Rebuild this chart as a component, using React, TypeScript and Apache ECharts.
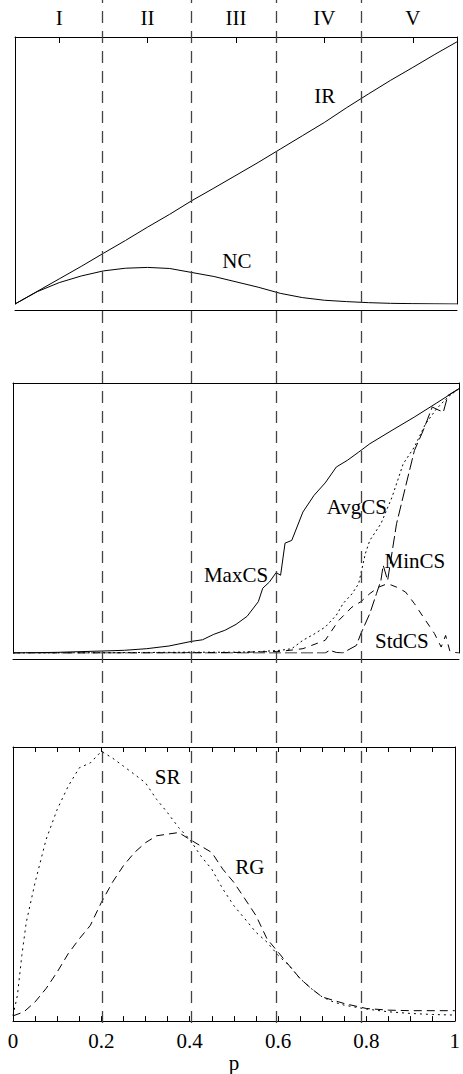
import React, { useEffect, useRef } from 'react';
import * as echarts from 'echarts';

const FONT = "'Liberation Serif', 'Times New Roman', serif";

// Stage names (top axis) and stage boundaries (dashed vertical lines), in p
const stageNames = ['I', 'II', 'III', 'IV', 'V'];
const stageBounds = [0.195, 0.4, 0.59, 0.778];

// ---- Panel 1: IR and NC ----
const p1P = [0, 0.05, 0.1, 0.15, 0.2, 0.25, 0.3, 0.35, 0.4, 0.45, 0.5, 0.55, 0.6, 0.65, 0.7, 0.75, 0.8, 0.85, 0.9, 0.95, 1];
const irV = [0, 0.047, 0.094, 0.141, 0.19, 0.238, 0.288, 0.336, 0.387, 0.434, 0.482, 0.53, 0.58, 0.63, 0.68, 0.735, 0.787, 0.838, 0.886, 0.935, 0.982];
const ncV = [0, 0.046, 0.08, 0.105, 0.124, 0.134, 0.137, 0.133, 0.118, 0.103, 0.083, 0.063, 0.04, 0.024, 0.014, 0.009, 0.005, 0.0025, 0.0013, 0.0006, 0];

// ---- Panel 2: MaxCS, AvgCS, MinCS, StdCS ----
const maxP = [0, 0.1, 0.2, 0.25, 0.3, 0.35, 0.4, 0.425, 0.45, 0.475, 0.5, 0.525, 0.55, 0.56, 0.575, 0.59, 0.6, 0.61, 0.625, 0.65, 0.675, 0.7, 0.725, 0.75, 0.775, 0.8, 0.85, 0.9, 0.95, 1];
const maxV = [0, 0.0025, 0.0074, 0.01, 0.016, 0.026, 0.043, 0.049, 0.069, 0.084, 0.106, 0.136, 0.19, 0.24, 0.263, 0.298, 0.288, 0.407, 0.417, 0.522, 0.584, 0.63, 0.689, 0.714, 0.744, 0.775, 0.825, 0.874, 0.926, 0.979];
const avgP = [0, 0.1, 0.2, 0.3, 0.4, 0.5, 0.55, 0.6, 0.625, 0.65, 0.675, 0.7, 0.725, 0.74, 0.76, 0.775, 0.79, 0.8, 0.825, 0.85, 0.875, 0.9, 0.925, 0.95, 0.975, 1];
const avgV = [0, 0, 0.001, 0.002, 0.003, 0.003, 0.005, 0.01, 0.016, 0.047, 0.07, 0.096, 0.14, 0.183, 0.219, 0.257, 0.368, 0.417, 0.479, 0.578, 0.701, 0.763, 0.849, 0.905, 0.948, 0.979];
const minP = [0, 0.2, 0.4, 0.6, 0.7, 0.71, 0.725, 0.74, 0.75, 0.77, 0.78, 0.8, 0.815, 0.825, 0.83, 0.84, 0.86, 0.88, 0.9, 0.92, 0.94, 0.955, 0.965, 0.975, 1];
const minV = [0, 0, 0, 0, 0, 0.01, 0.002, 0, 0.01, 0.028, 0.072, 0.146, 0.22, 0.269, 0.325, 0.269, 0.479, 0.615, 0.75, 0.825, 0.911, 0.899, 0.893, 0.954, 0.979];
const stdP = [0, 0.2, 0.4, 0.5, 0.55, 0.6, 0.65, 0.7, 0.73, 0.76, 0.78, 0.8, 0.82, 0.84, 0.86, 0.88, 0.9, 0.92, 0.945, 0.96, 0.97, 0.98, 1];
const stdV = [0, 0, 0.001, 0.002, 0.004, 0.006, 0.016, 0.047, 0.12, 0.17, 0.19, 0.22, 0.244, 0.257, 0.244, 0.226, 0.183, 0.133, 0.072, 0.022, 0.065, 0.004, 0];

// ---- Panel 3: SR and RG ----
const srP = [0, 0.01, 0.02, 0.03, 0.05, 0.075, 0.1, 0.125, 0.15, 0.175, 0.2, 0.225, 0.25, 0.275, 0.3, 0.325, 0.35, 0.375, 0.4, 0.425, 0.45, 0.475, 0.5, 0.525, 0.55, 0.575, 0.6, 0.625, 0.65, 0.675, 0.7, 0.725, 0.75, 0.8, 0.85, 0.9, 0.95, 1];
const srV = [0.02, 0.094, 0.24, 0.36, 0.506, 0.663, 0.772, 0.857, 0.924, 0.942, 0.984, 0.96, 0.93, 0.9, 0.869, 0.809, 0.76, 0.706, 0.663, 0.603, 0.554, 0.482, 0.421, 0.373, 0.324, 0.288, 0.24, 0.203, 0.155, 0.119, 0.088, 0.07, 0.058, 0.044, 0.034, 0.028, 0.024, 0.022];
const rgP = [0, 0.025, 0.05, 0.075, 0.1, 0.125, 0.15, 0.175, 0.2, 0.225, 0.25, 0.275, 0.3, 0.325, 0.35, 0.375, 0.4, 0.425, 0.45, 0.475, 0.5, 0.525, 0.55, 0.575, 0.6, 0.625, 0.65, 0.675, 0.7, 0.725, 0.75, 0.8, 0.85, 0.9, 1];
const rgV = [0.019, 0.034, 0.07, 0.119, 0.179, 0.246, 0.3, 0.349, 0.433, 0.506, 0.567, 0.615, 0.651, 0.676, 0.682, 0.688, 0.663, 0.639, 0.615, 0.554, 0.506, 0.446, 0.385, 0.3, 0.252, 0.203, 0.155, 0.119, 0.088, 0.076, 0.064, 0.046, 0.04, 0.038, 0.038];

// Curve label anchors [p, value]
const labelIR = [0.701, 0.779];
const labelNC = [0.502, 0.161];
const labelAvg = [0.771, 0.541];
const labelMax = [0.5, 0.289];
const labelMin = [0.901, 0.341];
const labelStd = [0.872, 0.044];
const labelSR = [0.35, 0.891];
const labelRG = [0.536, 0.562];

const zip = (xs: number[], ys: number[]) => xs.map((x, i) => [x, ys[i]]);

const textStyle = { color: '#000', fontFamily: FONT, fontSize: 21 };

const curve = (
  name: string,
  xIdx: number,
  yIdx: number,
  data: number[][],
  type: any,
  label: number[]
) => ({
  name,
  type: 'line',
  xAxisIndex: xIdx,
  yAxisIndex: yIdx,
  data,
  showSymbol: false,
  symbol: 'none',
  silent: true,
  lineStyle: { color: '#000', width: 1, type },
  markPoint: {
    silent: true,
    symbol: 'rect',
    symbolSize: 1,
    itemStyle: { color: 'rgba(0,0,0,0)' },
    label: { show: true, position: 'inside', formatter: '{b}', ...textStyle },
    data: [{ name, coord: label }],
  },
});

const plainValueX = (gridIndex: number, position: string, offset = 0) => ({
  type: 'value',
  gridIndex,
  position,
  offset,
  min: 0,
  max: 1,
  axisLine: { show: true, onZero: false, lineStyle: { color: '#000', width: 1 } },
  axisTick: { show: false },
  axisLabel: { show: false },
  splitLine: { show: false },
});

const sideY = (gridIndex: number, position: string) => ({
  type: 'value',
  gridIndex,
  position,
  min: 0,
  max: 1,
  axisLine: { show: true, onZero: false, lineStyle: { color: '#000', width: 1 } },
  axisTick: { show: false },
  axisLabel: { show: false },
  splitLine: { show: false },
});

export default function App() {
  const ref = useRef<HTMLDivElement>(null);
  useEffect(() => {
    document.body.style.margin = '0';
    const chart = echarts.init(ref.current!, null, { renderer: 'svg' });
    const option: any = {
      animation: false,
      backgroundColor: '#fff',
      textStyle: { fontFamily: FONT },
      grid: [
        { left: 15, top: 37, width: 442, height: 267 },
        { left: 13, top: 383, width: 446, height: 270 },
        { left: 13, top: 747, width: 446, height: 276 },
        { left: 13, top: 0, width: 446, height: 1023 },
      ],
      xAxis: [
        plainValueX(0, 'bottom', 6),
        {
          type: 'category',
          gridIndex: 0,
          position: 'top',
          data: stageNames,
          boundaryGap: true,
          axisLine: { show: true, onZero: false, lineStyle: { color: '#000', width: 1 } },
          axisTick: { show: true, inside: true, length: 6, alignWithLabel: true, lineStyle: { color: '#000' } },
          axisLabel: { show: true, margin: 9, ...textStyle },
          splitLine: { show: false },
        },
        plainValueX(1, 'bottom', 6),
        plainValueX(1, 'top'),
        {
          type: 'value',
          gridIndex: 2,
          position: 'bottom',
          min: 0,
          max: 1,
          interval: 0.05,
          name: 'p',
          nameLocation: 'middle',
          nameGap: 29,
          nameTextStyle: textStyle,
          axisLine: { show: true, onZero: false, lineStyle: { color: '#000', width: 1 } },
          axisTick: { show: true, inside: true, length: 5, lineStyle: { color: '#000' } },
          axisLabel: {
            show: true,
            margin: 9,
            ...textStyle,
            formatter: (v: number) => {
              const r = Math.round(v * 20);
              return r % 4 === 0 ? String(r / 20) : '';
            },
          },
          splitLine: { show: false },
        },
        {
          type: 'value',
          gridIndex: 2,
          position: 'top',
          min: 0,
          max: 1,
          interval: 0.05,
          axisLine: { show: true, onZero: false, lineStyle: { color: '#000', width: 1 } },
          axisTick: { show: true, inside: true, length: 5, lineStyle: { color: '#000' } },
          axisLabel: { show: false },
          splitLine: { show: false },
        },
        { type: 'value', gridIndex: 3, min: 0, max: 1, show: false },
      ],
      yAxis: [
        sideY(0, 'left'),
        sideY(0, 'right'),
        sideY(1, 'left'),
        sideY(1, 'right'),
        sideY(2, 'left'),
        sideY(2, 'right'),
        { type: 'value', gridIndex: 3, min: 0, max: 1, show: false },
      ],
      series: [
        curve('IR', 0, 0, zip(p1P, irV), 'solid', labelIR),
        curve('NC', 0, 0, zip(p1P, ncV), 'solid', labelNC),
        curve('MaxCS', 2, 2, zip(maxP, maxV), 'solid', labelMax),
        curve('AvgCS', 2, 2, zip(avgP, avgV), [2, 3], labelAvg),
        curve('MinCS', 2, 2, zip(minP, minV), [12, 4], labelMin),
        curve('StdCS', 2, 2, zip(stdP, stdV), [7, 6], labelStd),
        curve('SR', 4, 4, zip(srP, srV), [2, 4], labelSR),
        curve('RG', 4, 4, zip(rgP, rgV), [8, 5], labelRG),
        {
          name: 'stages',
          type: 'line',
          xAxisIndex: 6,
          yAxisIndex: 6,
          data: [],
          silent: true,
          markLine: {
            silent: true,
            symbol: ['none', 'none'],
            label: { show: false },
            lineStyle: { color: '#444', width: 1.3, type: [12, 8] },
            data: stageBounds.map((x) => ({ xAxis: x })),
          },
        },
      ],
    };
    chart.setOption(option);
    return () => chart.dispose();
  }, []);
  return <div ref={ref} style={{ width: 463, height: 1074 }} />;
}
